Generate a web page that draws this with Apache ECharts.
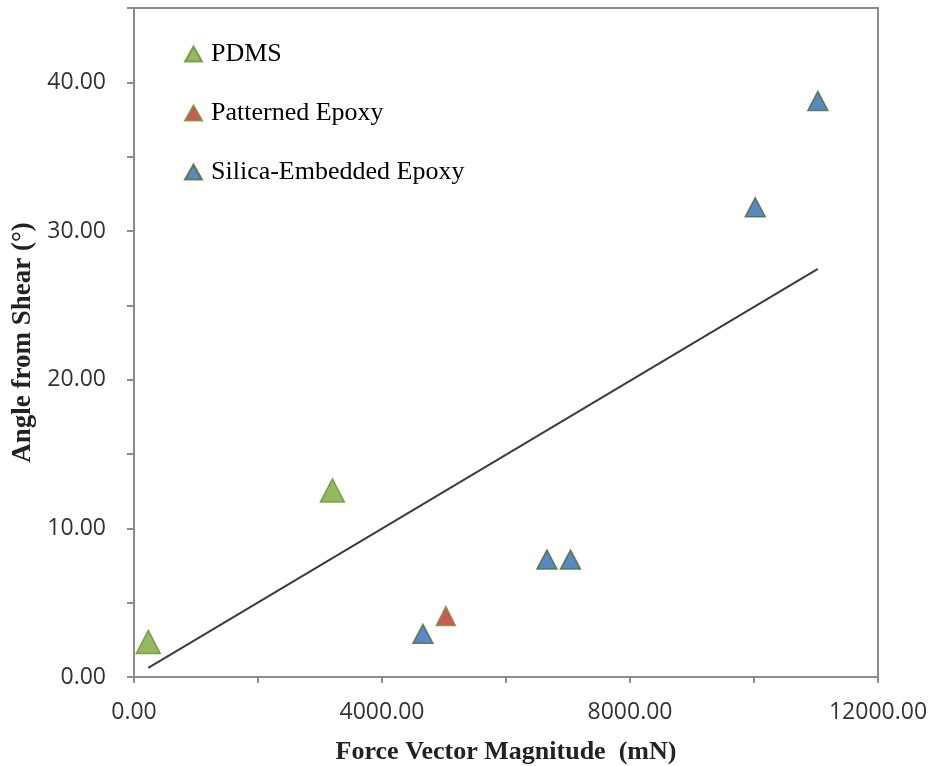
<!DOCTYPE html>
<html>
<head>
<meta charset="utf-8">
<script src="https://cdn.jsdelivr.net/npm/echarts@6/dist/echarts.min.js"></script>
<style>
  html, body { margin: 0; padding: 0; background: #fff; }
  #chart { width: 932px; height: 766px; }
</style>
</head>
<body>
<div id="chart"></div>
<script>
// Force vector magnitude (mN) vs. angle from shear (degrees)
const pdmsX = [230, 3200];
const pdmsY = [2.36, 12.55];
const patternedX = [5030];
const patternedY = [4.1];
const silicaX = [4660, 6660, 7040, 10020, 11030];
const silicaY = [2.9, 7.9, 7.9, 31.6, 38.75];
// Linear trend line across all samples (endpoints)
const trendX = [230, 11030];
const trendY = [0.61, 27.45];

const xTicks = [0, 4000, 8000, 12000];
const yTicks = [0, 10, 20, 30, 40];

const pair = (xs, ys) => xs.map((x, i) => [x, ys[i]]);

const axisGray = '#8c8c8c';
const labelStyle = {
  fontFamily: 'Open Sans',
  fontSize: 23,
  color: '#333333'
};

const chart = echarts.init(document.getElementById('chart'), null, { renderer: 'canvas' });
chart.setOption({
  animation: false,
  backgroundColor: '#ffffff',
  grid: {
    left: 134, right: 54, top: 8, bottom: 89,
    outerBoundsMode: 'none',
    containLabel: false,
    show: true,
    borderColor: axisGray,
    borderWidth: 2
  },
  legend: {
    data: ['PDMS', 'Patterned Epoxy', 'Silica-Embedded Epoxy'],
    orient: 'vertical',
    left: 179,
    top: 36,
    itemGap: 33,
    itemWidth: 17,
    itemHeight: 15,
    icon: 'triangle',
    textStyle: {
      fontFamily: 'Liberation Serif',
      fontSize: 26,
      color: '#000',
      padding: [0, 0, 0, 4]
    }
  },
  xAxis: {
    type: 'value',
    min: 0,
    max: 12000,
    interval: 2000,
    name: 'Force Vector Magnitude  (mN)',
    nameLocation: 'middle',
    nameGap: 62,
    nameTextStyle: {
      fontFamily: 'Liberation Serif',
      fontWeight: 'bold',
      fontSize: 26,
      color: '#222'
    },
    axisLine: { show: true, lineStyle: { color: axisGray, width: 2 } },
    axisTick: { show: true, inside: false, length: 6, lineStyle: { color: axisGray, width: 2 } },
    splitLine: { show: false },
    axisLabel: Object.assign({
      margin: 24,
      formatter: v => xTicks.includes(v) ? v.toFixed(2) : ''
    }, labelStyle)
  },
  yAxis: {
    type: 'value',
    min: 0,
    max: 45,
    interval: 5,
    name: 'Angle from Shear (°)',
    nameLocation: 'middle',
    nameGap: 96,
    nameRotate: 90,
    nameTextStyle: {
      fontFamily: 'Liberation Serif',
      fontWeight: 'bold',
      fontSize: 27,
      color: '#222'
    },
    axisLine: { show: true, lineStyle: { color: axisGray, width: 2 } },
    axisTick: { show: true, inside: false, length: 7, lineStyle: { color: axisGray, width: 2 } },
    splitLine: { show: false },
    axisLabel: Object.assign({
      margin: 28,
      formatter: v => yTicks.includes(v) ? v.toFixed(2) : ''
    }, labelStyle)
  },
  series: [
    {
      name: 'Trend',
      type: 'line',
      data: pair(trendX, trendY),
      symbol: 'none',
      silent: true,
      lineStyle: { color: '#3c3c3c', width: 2 },
      z: 1
    },
    {
      name: 'PDMS',
      type: 'scatter',
      data: pair(pdmsX, pdmsY),
      symbol: 'triangle',
      symbolSize: [24, 23],
      itemStyle: { color: '#7aa83a', borderColor: '#64922a', borderWidth: 1.5 },
      z: 3
    },
    {
      name: 'Patterned Epoxy',
      type: 'scatter',
      data: pair(patternedX, patternedY),
      symbol: 'triangle',
      symbolSize: [19, 19],
      itemStyle: { color: '#c0302c', borderColor: '#7a8a34', borderWidth: 1.5 },
      z: 3
    },
    {
      name: 'Silica-Embedded Epoxy',
      type: 'scatter',
      data: pair(silicaX, silicaY),
      symbol: 'triangle',
      symbolSize: [20, 19],
      itemStyle: { color: '#2f6cb6', borderColor: '#4a6a2a', borderWidth: 1.5 },
      z: 3
    }
  ]
});
</script>
</body>
</html>
